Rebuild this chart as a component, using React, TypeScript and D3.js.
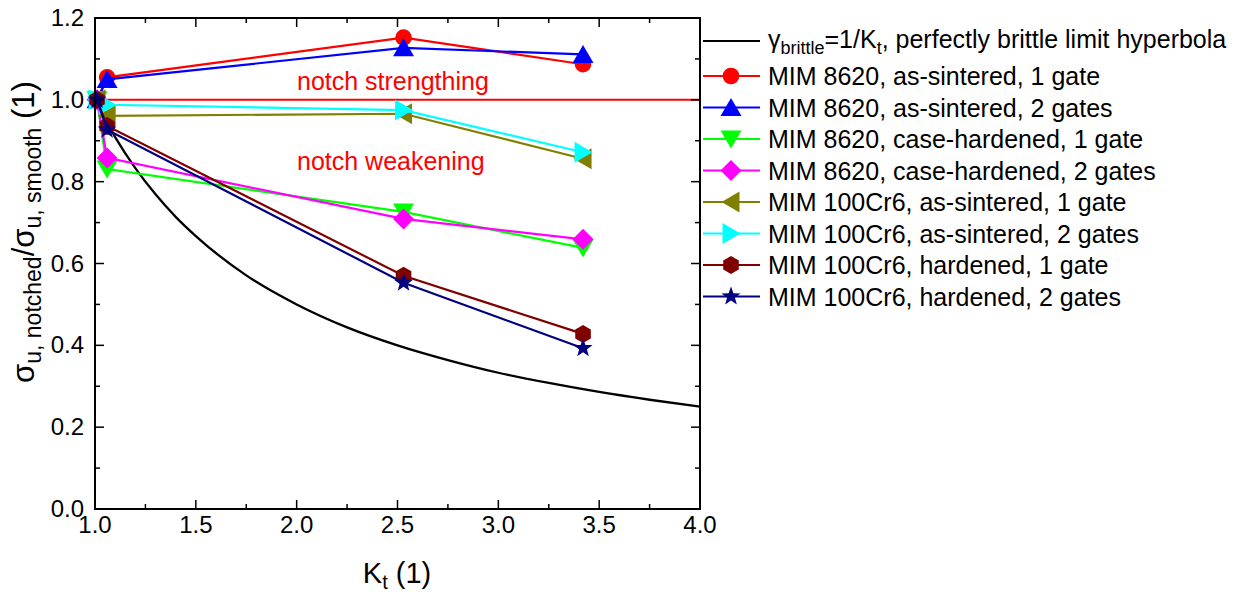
import React from 'react';
import * as d3 from 'd3';

// ---------- data ----------
const ktValues = [1.01, 1.06, 2.53, 3.42];
const mim8620AsSint1 = [1.0, 1.055, 1.152, 1.087];
const mim8620AsSint2 = [1.0, 1.05, 1.127, 1.111];
const mim8620Case1 = [1.0, 0.831, 0.726, 0.638];
const mim8620Case2 = [1.0, 0.858, 0.709, 0.659];
const mim100AsSint1 = [1.0, 0.961, 0.966, 0.856];
const mim100AsSint2 = [1.0, 0.988, 0.975, 0.872];
const mim100Hard1 = [1.0, 0.936, 0.57, 0.428];
const mim100Hard2 = [1.0, 0.927, 0.553, 0.393];

const hyperbolaKt = [1.0, 1.1, 1.2, 1.3, 1.4, 1.5, 1.75, 2.0, 2.25, 2.5, 2.75, 3.0, 3.25, 3.5, 3.75, 4.0];
const hyperbolaVal = [1.0, 0.909, 0.833, 0.769, 0.714, 0.667, 0.571, 0.5, 0.444, 0.4, 0.364, 0.333, 0.308, 0.286, 0.267, 0.25];

const seriesNames = [
  'MIM 8620, as-sintered, 1 gate',
  'MIM 8620, as-sintered, 2 gates',
  'MIM 8620, case-hardened, 1 gate',
  'MIM 8620, case-hardened, 2 gates',
  'MIM 100Cr6, as-sintered, 1 gate',
  'MIM 100Cr6, as-sintered, 2 gates',
  'MIM 100Cr6, hardened, 1 gate',
  'MIM 100Cr6, hardened, 2 gates',
];
const seriesValues = [
  mim8620AsSint1, mim8620AsSint2, mim8620Case1, mim8620Case2,
  mim100AsSint1, mim100AsSint2, mim100Hard1, mim100Hard2,
];
const seriesColors = ['#FF0000', '#0000FF', '#00FF00', '#FF00FF', '#808000', '#00FFFF', '#800000', '#000080'];
const seriesSymbols = ['circle', 'triUp', 'triDown', 'diamond', 'triLeft', 'triRight', 'hexagon', 'star'];

const xTicks = [1.0, 1.5, 2.0, 2.5, 3.0, 3.5, 4.0];
const yTicks = [0.0, 0.2, 0.4, 0.6, 0.8, 1.0, 1.2];

// ---------- layout ----------
const W = 1239, H = 594;
const X0 = 95, X1 = 700, Y0 = 18, Y1 = 509;
const FONT = '"Liberation Sans", Arial, Helvetica, sans-serif';

const x = d3.scaleLinear().domain([1, 4]).range([X0, X1]);
const y = d3.scaleLinear().domain([0, 1.2]).range([Y1, Y0]);

function symbolPath(kind: string, cx: number, cy: number): string {
  const p = d3.path();
  const poly = (pts: [number, number][]) => {
    pts.forEach(([a, b], i) => (i === 0 ? p.moveTo(cx + a, cy + b) : p.lineTo(cx + a, cy + b)));
    p.closePath();
  };
  switch (kind) {
    case 'circle':
      p.arc(cx, cy, 8.3, 0, Math.PI * 2);
      break;
    case 'triUp':
      poly([[0, -9.5], [10.5, 8.5], [-10.5, 8.5]]);
      break;
    case 'triDown':
      poly([[0, 9.5], [10.5, -8.5], [-10.5, -8.5]]);
      break;
    case 'triLeft':
      poly([[-9.5, 0], [8.5, -10.5], [8.5, 10.5]]);
      break;
    case 'triRight':
      poly([[9.5, 0], [-8.5, -10.5], [-8.5, 10.5]]);
      break;
    case 'diamond':
      poly([[0, -10.5], [10.5, 0], [0, 10.5], [-10.5, 0]]);
      break;
    case 'hexagon': {
      const pts: [number, number][] = d3.range(6).map((i) => {
        const a = -Math.PI / 2 + (i * Math.PI) / 3;
        return [9 * Math.cos(a), 9 * Math.sin(a)] as [number, number];
      });
      poly(pts);
      break;
    }
    case 'star': {
      const pts: [number, number][] = d3.range(10).map((i) => {
        const r = i % 2 === 0 ? 10 : 4.1;
        const a = -Math.PI / 2 + (i * Math.PI) / 5;
        return [r * Math.cos(a), r * Math.sin(a)] as [number, number];
      });
      poly(pts);
      break;
    }
  }
  return p.toString();
}

export default function App() {
  const line = d3.line<number>().x((_, i) => x(ktValues[i])).y((d) => y(d));
  const hyper = d3
    .line<number>()
    .x((_, i) => x(hyperbolaKt[i]))
    .y((d) => y(d))
    .curve(d3.curveMonotoneX);

  const xMinor = d3.range(1, 4.001, 0.25);
  const yMinor = d3.range(0, 1.2001, 0.1);

  const legX0 = 703, legX1 = 760, legMid = 731, legText = 768;
  const legRow1 = 41;
  const legRows = seriesNames.map((_, i) => 76 + i * 31.5);

  return (
    <svg width={W} height={H} style={{ position: 'absolute', left: 0, top: 0, background: '#fff' }} fontFamily={FONT}>
      <rect x={0} y={0} width={W} height={H} fill="#fff" />

      {/* hyperbola */}
      <path d={hyper(hyperbolaVal) || ''} fill="none" stroke="#000" strokeWidth={2.3} />

      {/* reference line */}
      <line x1={x(1)} x2={x(4)} y1={y(1)} y2={y(1)} stroke="#FF0000" strokeWidth={2} />

      {/* series */}
      {seriesValues.map((vals, si) => (
        <g key={si}>
          <path d={line(vals) || ''} fill="none" stroke={seriesColors[si]} strokeWidth={2.2} />
          {vals.map((v, i) => (
            <path key={i} d={symbolPath(seriesSymbols[si], x(ktValues[i]), y(v))} fill={seriesColors[si]} />
          ))}
        </g>
      ))}

      {/* annotations */}
      <text x={297} y={90} fontSize={25} fill="#FF0000">notch strengthing</text>
      <text x={297} y={170} fontSize={25} fill="#FF0000">notch weakening</text>

      {/* frame */}
      <rect x={X0} y={Y0} width={X1 - X0} height={Y1 - Y0} fill="none" stroke="#000" strokeWidth={2} />

      {/* ticks */}
      {xMinor.map((t, i) => {
        const major = i % 2 === 0;
        const len = major ? 9 : 5;
        return (
          <g key={'xt' + i} stroke="#000" strokeWidth={1.5}>
            <line x1={x(t)} x2={x(t)} y1={Y1} y2={Y1 - len} />
            <line x1={x(t)} x2={x(t)} y1={Y0} y2={Y0 + len} />
          </g>
        );
      })}
      {yMinor.map((t, i) => {
        const major = i % 2 === 0;
        const len = major ? 9 : 5;
        return (
          <g key={'yt' + i} stroke="#000" strokeWidth={1.5}>
            <line x1={X0} x2={X0 + len} y1={y(t)} y2={y(t)} />
            <line x1={X1} x2={X1 - len} y1={y(t)} y2={y(t)} />
          </g>
        );
      })}

      {/* tick labels */}
      {xTicks.map((t) => (
        <text key={'xl' + t} x={x(t)} y={533} fontSize={24} textAnchor="middle" fill="#000">
          {t.toFixed(1)}
        </text>
      ))}
      {yTicks.map((t) => (
        <text key={'yl' + t} x={84} y={y(t) + 8} fontSize={24} textAnchor="end" fill="#000">
          {t.toFixed(1)}
        </text>
      ))}

      {/* axis titles */}
      <text x={397} y={583} fontSize={29} textAnchor="middle" fill="#000">
        K<tspan fontSize={20} dy={6}>t</tspan>
        <tspan dy={-6}> (1)</tspan>
      </text>
      <text transform="translate(34,232) rotate(-90)" fontSize={31} textAnchor="middle" fill="#000">
        σ<tspan fontSize={23} dy={7}>u, notched</tspan>
        <tspan dy={-7}>/σ</tspan>
        <tspan fontSize={23} dy={7}>u, smooth</tspan>
        <tspan dy={-7}> (1)</tspan>
      </text>

      {/* legend */}
      <line x1={legX0} x2={legX1} y1={legRow1} y2={legRow1} stroke="#000" strokeWidth={2} />
      <text x={legText} y={legRow1 + 7} fontSize={25} fill="#000">
        γ<tspan fontSize={18} dy={6}>brittle</tspan>
        <tspan dy={-6}>=1/K</tspan>
        <tspan fontSize={18} dy={6}>t</tspan>
        <tspan dy={-6}>, perfectly brittle limit hyperbola</tspan>
      </text>
      {seriesNames.map((name, i) => (
        <g key={'lg' + i}>
          <line x1={legX0} x2={legX1} y1={legRows[i]} y2={legRows[i]} stroke={seriesColors[i]} strokeWidth={2} />
          <path d={symbolPath(seriesSymbols[i], legMid, legRows[i])} fill={seriesColors[i]} />
          <text x={legText} y={legRows[i] + 9} fontSize={25} fill="#000">{name}</text>
        </g>
      ))}
    </svg>
  );
}
